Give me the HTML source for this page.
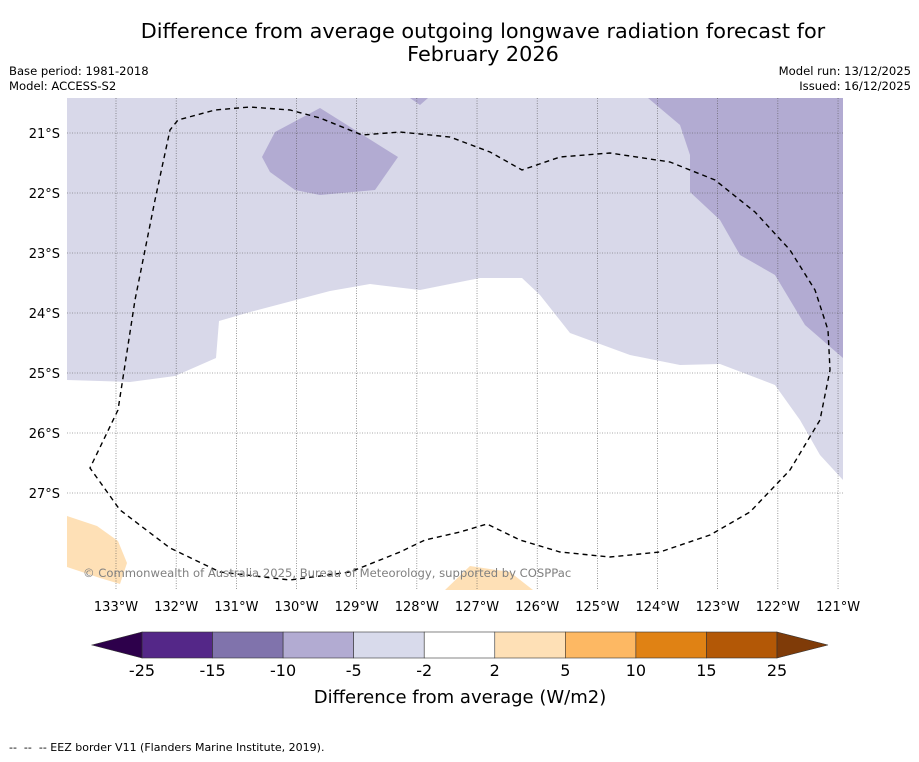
<!DOCTYPE html>
<html><head><meta charset="utf-8"><style>
body{margin:0;background:#fff;width:919px;height:758px;overflow:hidden;font-family:"DejaVu Sans","Liberation Sans",sans-serif}
text{font-family:"DejaVu Sans","Liberation Sans",sans-serif;white-space:pre}
</style></head><body>
<svg id="s" width="919" height="758">
<text x="483" y="38" font-size="20.8" text-anchor="middle">Difference from average outgoing longwave radiation forecast for</text>
<text x="483" y="61" font-size="20.8" text-anchor="middle">February 2026</text>
<text x="9" y="75" font-size="11.6">Base period: 1981-2018</text>
<text x="9" y="90" font-size="11.6">Model: ACCESS-S2</text>
<text x="911" y="75" font-size="11.6" text-anchor="end">Model run: 13/12/2025</text>
<text x="911" y="90" font-size="11.6" text-anchor="end">Issued: 16/12/2025</text>
<g>
<rect x="67" y="98" width="776" height="492" fill="#fff"/>
<polygon fill="#d8d8e9" points="67,98 843,98 843,480 820,455 800,420 775,385 720,364 680,365 630,355 570,333 540,295 522,278 480,278 420,290 370,284 330,291 250,312 219,321 216,358 175,376 130,382 67,380"/>
<polygon fill="#b2abd2" points="648,98 843,98 843,358 805,325 775,275 740,255 720,220 690,192 690,155 680,125"/>
<polygon fill="#b2abd2" points="320,108 398,157 375,190 320,195 295,190 270,172 262,157 275,132"/>
<polygon fill="#b2abd2" points="410,98 428,98 420,105"/>
<polygon fill="#fee0b6" points="67,516 97,526 118,541 127,563 120,584 100,578 67,567"/>
<polygon fill="#fee0b6" points="445,590 470,566 510,572 533,590"/>
<g id="grid"></g>
<polyline fill="none" stroke="#000" stroke-width="1.4" stroke-dasharray="5,4" points="118,410 90,468 120,510 170,548 220,572 290,580 350,572 400,552 425,540 460,532 487,524 520,540 560,552 610,557 660,552 710,535 750,512 790,470 820,420 830,370 828,330 815,290 790,250 755,212 715,180 670,162 610,153 560,157 522,170 490,152 450,137 400,132 362,135 320,118 290,110 250,107 215,110 178,120 170,130 155,200 135,300 118,410"/>
<text x="83" y="577" font-size="11.6" fill="#808080">© Commonwealth of Australia 2025, Bureau of Meteorology, supported by COSPPac</text>
</g>
<g id="ticks"></g>
<g id="cbar"></g>
<text x="460" y="703" font-size="18" text-anchor="middle">Difference from average (W/m2)</text>
<text x="9" y="751" font-size="11">--  --  -- EEZ border V11 (Flanders Marine Institute, 2019).</text>
</svg>
<script>
const lons=[133,132,131,130,129,128,127,126,125,124,123,122,121];
const lats=[21,22,23,24,25,26,27];
const bounds=[-25,-15,-10,-5,-2,2,5,10,15,25];
const colors=["#542788","#8073ac","#b2abd2","#d8daeb","#ffffff","#fee0b6","#fdb863","#e08214","#b35806"];
const ns="http://www.w3.org/2000/svg";
function lx(l){return 116+(133-l)*60.17;}
function ly(l){return 133+(l-21)*60;}
function mk(t,a,p,txt){const e=document.createElementNS(ns,t);for(const k in a)e.setAttribute(k,a[k]);if(txt!==undefined)e.textContent=txt;p.appendChild(e);return e;}
const g=document.getElementById('grid'),tk=document.getElementById('ticks'),cb=document.getElementById('cbar');
lons.forEach(l=>{const x=lx(l);
const ln=mk('line',{x1:x,x2:x,y1:98,y2:590,stroke:'#555','stroke-width':0.6,'stroke-dasharray':'1,1.5'},g);


const t=mk('text',{x:x,y:611,'font-size':13,'text-anchor':'middle'},tk,l+'°W');

});
lats.forEach(l=>{const y=ly(l);
const ln=mk('line',{x1:67,x2:843,y1:y,y2:y,stroke:'#555','stroke-width':0.6,'stroke-dasharray':'1,1.5'},g);


const t=mk('text',{x:60,y:y+5,'font-size':13,'text-anchor':'end'},tk,l+'°S');

});
const x0=142,w=(777-142)/colors.length,y0=632,h=26;
colors.forEach((c,i)=>{const r=mk('rect',{x:x0+i*w,y:y0,width:w,height:h,fill:c,stroke:'#333','stroke-width':0.6},cb);

});
const tl=mk('polygon',{points:`${x0},${y0} 92,${y0+h/2} ${x0},${y0+h}`,fill:'#2d004b',stroke:'#333','stroke-width':0.6},cb);


const tr=mk('polygon',{points:`777,${y0} 828,${y0+h/2} 777,${y0+h}`,fill:'#7f3b08',stroke:'#333','stroke-width':0.6},cb);


bounds.forEach((b,i)=>{const t=mk('text',{x:x0+i*w,y:676,'font-size':16,'text-anchor':'middle'},cb,String(b));

});
</script>
</body></html>
